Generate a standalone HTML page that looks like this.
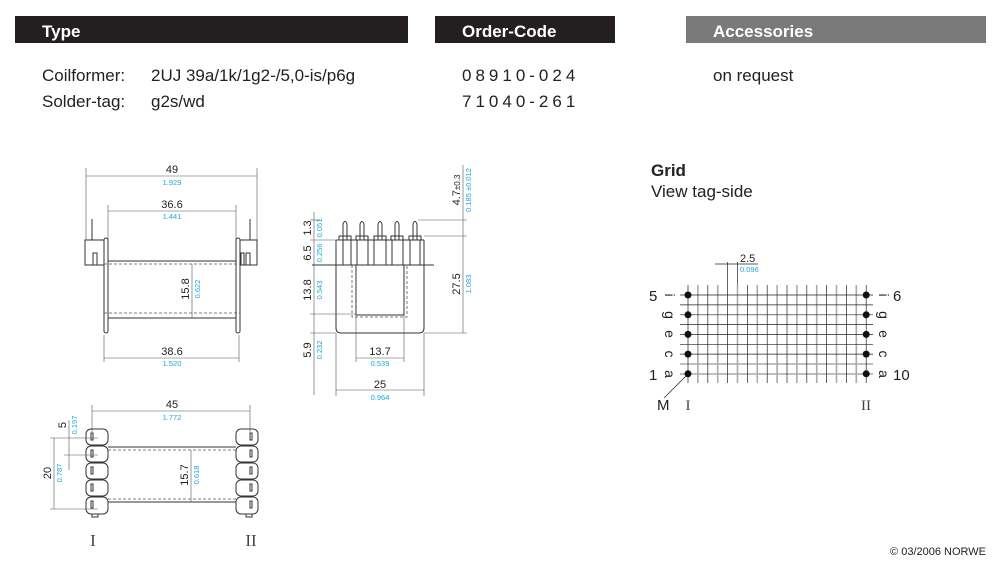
<!DOCTYPE html>
<html><head><meta charset="utf-8"><style>
html,body{margin:0;padding:0;background:#fff;}
svg{display:block;font-family:"Liberation Sans",Arial,sans-serif;}
.k{stroke:#333;stroke-width:1;fill:none}
.t{stroke:#555;stroke-width:0.6;fill:none}
.d{stroke:#555;stroke-width:0.8;fill:none;stroke-dasharray:3 2}
.b{fill:#222;font-size:11px}
.c{fill:#1aa8d8;font-size:7.5px}
.g{stroke:#222;stroke-width:0.7}
.gg{stroke:#aaa;stroke-width:1.6}
</style></head><body>
<svg width="1000" height="569" viewBox="0 0 1000 569">
<rect x="15" y="16" width="393" height="27" fill="#231f20"/>
<rect x="435" y="16" width="180" height="27" fill="#231f20"/>
<rect x="686" y="16" width="300" height="27" fill="#7a7a7a"/>
<text x="42" y="37" fill="#fff" font-size="17" font-weight="bold">Type</text>
<text x="462" y="37" fill="#fff" font-size="17" font-weight="bold">Order-Code</text>
<text x="713" y="37" fill="#fff" font-size="17" font-weight="bold">Accessories</text>
<g fill="#222" font-size="17">
<text x="42" y="81">Coilformer:</text><text x="151" y="81">2UJ 39a/1k/1g2-/5,0-is/p6g</text>
<text x="42" y="107">Solder-tag:</text><text x="151" y="107">g2s/wd</text>
<text x="462" y="81" letter-spacing="4">08910-024</text>
<text x="462" y="107" letter-spacing="4">71040-261</text>
<text x="713" y="81">on request</text>
<text x="651" y="176" font-weight="bold">Grid</text>
<text x="651" y="197">View tag-side</text>
</g>
<text x="986" y="555" text-anchor="end" font-size="11" fill="#222">© 03/2006 NORWE</text>

<!-- Drawing 1 -->
<g>
<line class="t" x1="86" y1="168" x2="86" y2="240"/><line class="t" x1="257" y1="168" x2="257" y2="240"/>
<line class="t" x1="86" y1="176" x2="257" y2="176"/>
<text class="b" x="172" y="173" text-anchor="middle">49</text><text class="c" x="172" y="185" text-anchor="middle">1.929</text>
<line class="t" x1="108" y1="205" x2="108" y2="240"/><line class="t" x1="236" y1="205" x2="236" y2="240"/>
<line class="t" x1="108" y1="211" x2="236" y2="211"/>
<text class="b" x="172" y="208" text-anchor="middle">36.6</text><text class="c" x="172" y="219" text-anchor="middle">1.441</text>
<line class="k" x1="92" y1="219" x2="92" y2="240"/><line class="k" x1="250" y1="219" x2="250" y2="240"/>
<rect class="k" x="85" y="240" width="19" height="25"/><rect class="k" x="93" y="253" width="4" height="12"/>
<rect class="k" x="240" y="240" width="17" height="25"/><rect class="k" x="246" y="253" width="4" height="12"/><rect class="k" x="241" y="253" width="3" height="12"/>
<rect class="k" x="104" y="238" width="4" height="95" rx="2"/>
<rect class="k" x="236" y="238" width="4" height="95" rx="2"/>
<line class="k" x1="108" y1="261" x2="236" y2="261"/><line class="k" x1="108" y1="318" x2="236" y2="318"/>
<line class="d" x1="104" y1="264" x2="240" y2="264"/><line class="d" x1="104" y1="313" x2="240" y2="313"/>
<line class="t" x1="192" y1="264" x2="192" y2="318"/>
<text class="b" transform="translate(189,289) rotate(-90)" text-anchor="middle">15.8</text>
<text class="c" transform="translate(200,289) rotate(-90)" text-anchor="middle">0.622</text>
<line class="t" x1="104" y1="335" x2="104" y2="362"/><line class="t" x1="239" y1="335" x2="239" y2="362"/>
<line class="t" x1="104" y1="358" x2="239" y2="358"/>
<text class="b" x="172" y="355" text-anchor="middle">38.6</text><text class="c" x="172" y="366" text-anchor="middle">1.520</text>
</g>

<!-- Drawing 2 -->
<g>
<path class="k" d="M336 240 V328 Q336 333 341 333 H419 Q424 333 424 328 V240"/>
<line class="k" x1="336" y1="240" x2="424" y2="240"/>
<line class="k" x1="312" y1="265" x2="434" y2="265"/>
<path class="d" d="M352 265 V317 H407 V265"/>
<path class="k" d="M356 265 V315 H404 V265"/>
<g class="k">
<path d="M343 240 V224 Q345 219 347 224 V240"/><rect x="339" y="236" width="12" height="4"/><line x1="343" y1="240" x2="343" y2="265"/><line x1="351" y1="240" x2="351" y2="265"/>
<path d="M360 240 V224 Q362 219 364 224 V240"/><rect x="356" y="236" width="12" height="4"/><line x1="357" y1="240" x2="357" y2="265"/><line x1="368" y1="240" x2="368" y2="265"/>
<path d="M378 240 V224 Q380 219 382 224 V240"/><rect x="374" y="236" width="12" height="4"/><line x1="374" y1="240" x2="374" y2="265"/><line x1="386" y1="240" x2="386" y2="265"/>
<path d="M395 240 V224 Q397 219 399 224 V240"/><rect x="391" y="236" width="12" height="4"/><line x1="392" y1="240" x2="392" y2="265"/><line x1="403" y1="240" x2="403" y2="265"/>
<path d="M413 240 V224 Q415 219 417 224 V240"/><rect x="409" y="236" width="12" height="4"/><line x1="410" y1="240" x2="410" y2="265"/><line x1="420" y1="240" x2="420" y2="265"/>
</g>
<line class="t" x1="314" y1="212" x2="314" y2="395"/>
<line class="t" x1="310" y1="240" x2="340" y2="240"/><line class="t" x1="310" y1="314" x2="356" y2="314"/><line class="t" x1="310" y1="333" x2="336" y2="333"/><line class="t" x1="310" y1="220" x2="320" y2="220"/>
<text class="b" transform="translate(311,228) rotate(-90)" text-anchor="middle">1.3</text><text class="c" transform="translate(322,228) rotate(-90)" text-anchor="middle">0.051</text>
<text class="b" transform="translate(311,253) rotate(-90)" text-anchor="middle">6.5</text><text class="c" transform="translate(322,253) rotate(-90)" text-anchor="middle">0.256</text>
<text class="b" transform="translate(311,290) rotate(-90)" text-anchor="middle">13.8</text><text class="c" transform="translate(322,290) rotate(-90)" text-anchor="middle">0.543</text>
<text class="b" transform="translate(311,350) rotate(-90)" text-anchor="middle">5.9</text><text class="c" transform="translate(322,350) rotate(-90)" text-anchor="middle">0.232</text>
<line class="t" x1="463" y1="165" x2="463" y2="333"/>
<line class="t" x1="418" y1="220" x2="467" y2="220"/><line class="t" x1="424" y1="236" x2="467" y2="236"/><line class="t" x1="424" y1="333" x2="467" y2="333"/>
<text class="b" transform="translate(460,190) rotate(-90)" text-anchor="middle">4.7<tspan font-size="8">±0.3</tspan></text>
<text class="c" transform="translate(471,190) rotate(-90)" text-anchor="middle">0.185 ±0.012</text>
<text class="b" transform="translate(460,284) rotate(-90)" text-anchor="middle">27.5</text><text class="c" transform="translate(471,284) rotate(-90)" text-anchor="middle">1.083</text>
<line class="t" x1="356" y1="315" x2="356" y2="362"/><line class="t" x1="404" y1="315" x2="404" y2="362"/>
<line class="t" x1="356" y1="358" x2="404" y2="358"/>
<text class="b" x="380" y="355" text-anchor="middle">13.7</text><text class="c" x="380" y="366" text-anchor="middle">0.539</text>
<line class="t" x1="336" y1="333" x2="336" y2="396"/><line class="t" x1="424" y1="333" x2="424" y2="396"/>
<line class="t" x1="336" y1="390" x2="424" y2="390"/>
<text class="b" x="380" y="388" text-anchor="middle">25</text><text class="c" x="380" y="400" text-anchor="middle">0.964</text>
</g>

<!-- Drawing 3 -->
<g>
<line class="t" x1="92" y1="405" x2="92" y2="432"/><line class="t" x1="250" y1="405" x2="250" y2="432"/>
<line class="t" x1="92" y1="411" x2="250" y2="411"/>
<text class="b" x="172" y="408" text-anchor="middle">45</text><text class="c" x="172" y="420" text-anchor="middle">1.772</text>
<g class="k">
<rect x="86" y="429" width="22" height="16" rx="5"/><rect x="86" y="446" width="22" height="16" rx="5"/><rect x="86" y="463" width="22" height="16" rx="5"/><rect x="86" y="480" width="22" height="16" rx="5"/><rect x="86" y="497" width="22" height="17" rx="5"/>
<rect x="236" y="429" width="22" height="16" rx="5"/><rect x="236" y="446" width="22" height="16" rx="5"/><rect x="236" y="463" width="22" height="16" rx="5"/><rect x="236" y="480" width="22" height="16" rx="5"/><rect x="236" y="497" width="22" height="17" rx="5"/>
<rect x="91" y="433" width="2" height="7"/><rect x="91" y="450" width="2" height="7"/><rect x="91" y="467" width="2" height="7"/><rect x="91" y="484" width="2" height="7"/><rect x="91" y="501" width="2" height="7"/>
<rect x="250" y="433" width="2" height="7"/><rect x="250" y="450" width="2" height="7"/><rect x="250" y="467" width="2" height="7"/><rect x="250" y="484" width="2" height="7"/><rect x="250" y="501" width="2" height="7"/>
<line x1="108" y1="447" x2="236" y2="447"/><line x1="108" y1="502" x2="236" y2="502"/>
<rect x="92" y="514" width="6" height="3"/><rect x="246" y="514" width="6" height="3"/>
</g>
<line class="d" x1="108" y1="450" x2="236" y2="450"/><line class="d" x1="108" y1="499" x2="236" y2="499"/>
<line class="t" x1="191" y1="450" x2="191" y2="502"/>
<text class="b" transform="translate(188,475) rotate(-90)" text-anchor="middle">15.7</text><text class="c" transform="translate(199,475) rotate(-90)" text-anchor="middle">0.618</text>
<line class="t" x1="50" y1="438" x2="98" y2="438"/><line class="t" x1="50" y1="509" x2="98" y2="509"/>
<line class="t" x1="54" y1="438" x2="54" y2="509"/><line class="t" x1="69" y1="420" x2="69" y2="470"/><line class="t" x1="64" y1="455" x2="98" y2="455"/>
<text class="b" transform="translate(51,473) rotate(-90)" text-anchor="middle">20</text><text class="c" transform="translate(62,473) rotate(-90)" text-anchor="middle">0.787</text>
<text class="b" transform="translate(66,425) rotate(-90)" text-anchor="middle">5</text><text class="c" transform="translate(77,425) rotate(-90)" text-anchor="middle">0.197</text>
<text x="93" y="546" font-family="Liberation Serif,serif" font-size="17" fill="#444" text-anchor="middle">I</text>
<text x="251" y="546" font-family="Liberation Serif,serif" font-size="17" fill="#444" text-anchor="middle">II</text>
</g>

<!-- Grid -->
<g>
<g class="gg">
<line x1="697.9" y1="285" x2="697.9" y2="383"/><line x1="717.7" y1="285" x2="717.7" y2="383"/><line x1="737.5" y1="285" x2="737.5" y2="383"/><line x1="757.3" y1="285" x2="757.3" y2="383"/><line x1="777.1" y1="285" x2="777.1" y2="383"/><line x1="796.9" y1="285" x2="796.9" y2="383"/><line x1="816.7" y1="285" x2="816.7" y2="383"/><line x1="836.5" y1="285" x2="836.5" y2="383"/><line x1="856.3" y1="285" x2="856.3" y2="383"/>
<line x1="680" y1="364" x2="873" y2="364"/><line x1="680" y1="374" x2="873" y2="374"/>
</g>
<g class="g">
<line x1="688" y1="285" x2="688" y2="383"/><line x1="707.8" y1="285" x2="707.8" y2="383"/><line x1="727.6" y1="262" x2="727.6" y2="383"/><line x1="737.5" y1="262" x2="737.5" y2="285"/><line x1="747.4" y1="285" x2="747.4" y2="383"/><line x1="767.2" y1="285" x2="767.2" y2="383"/><line x1="787" y1="285" x2="787" y2="383"/><line x1="806.8" y1="285" x2="806.8" y2="383"/><line x1="826.6" y1="285" x2="826.6" y2="383"/><line x1="846.4" y1="285" x2="846.4" y2="383"/><line x1="866.2" y1="285" x2="866.2" y2="383"/>
<line x1="680" y1="295" x2="873" y2="295"/><line x1="680" y1="304.9" x2="873" y2="304.9"/><line x1="680" y1="314.8" x2="873" y2="314.8"/><line x1="680" y1="324.6" x2="873" y2="324.6"/><line x1="680" y1="334.4" x2="873" y2="334.4"/><line x1="680" y1="344.3" x2="873" y2="344.3"/><line x1="680" y1="354.1" x2="873" y2="354.1"/>
<line x1="715" y1="264" x2="758" y2="264"/>
<line x1="686" y1="376" x2="664" y2="398"/>
</g>
<text x="740" y="262" font-size="11" fill="#222">2.5</text><text class="c" x="740" y="272">0.096</text>
<g fill="#111">
<circle cx="688" cy="295" r="3.5"/><circle cx="688" cy="314.8" r="3.5"/><circle cx="688" cy="334.4" r="3.5"/><circle cx="688" cy="354.1" r="3.5"/><circle cx="688" cy="373.8" r="3.5"/>
<circle cx="866.2" cy="295" r="3.5"/><circle cx="866.2" cy="314.8" r="3.5"/><circle cx="866.2" cy="334.4" r="3.5"/><circle cx="866.2" cy="354.1" r="3.5"/><circle cx="866.2" cy="373.8" r="3.5"/>
</g>
<g font-size="15" fill="#222">
<text x="649" y="301">5</text><text x="649" y="380">1</text><text x="893" y="301">6</text><text x="893" y="380">10</text>
<text x="657" y="410">M</text>
</g>
<g font-size="14" fill="#222" text-anchor="middle" dominant-baseline="central">
<rect x="664" y="288" width="12" height="14" fill="#fff"/><rect x="664" y="367" width="12" height="14" fill="#fff"/>
<rect x="877" y="288" width="12" height="14" fill="#fff"/><rect x="877" y="367" width="12" height="14" fill="#fff"/>
<text transform="translate(670,295) rotate(90)">i</text>
<text transform="translate(670,315) rotate(90)">g</text>
<text transform="translate(670,334) rotate(90)">e</text>
<text transform="translate(670,354) rotate(90)">c</text>
<text transform="translate(670,374) rotate(90)">a</text>
<text transform="translate(884,295) rotate(90)">i</text>
<text transform="translate(884,315) rotate(90)">g</text>
<text transform="translate(884,334) rotate(90)">e</text>
<text transform="translate(884,354) rotate(90)">c</text>
<text transform="translate(884,374) rotate(90)">a</text>
</g>
<text x="688" y="410" font-family="Liberation Serif,serif" font-size="15" fill="#444" text-anchor="middle">I</text>
<text x="866" y="410" font-family="Liberation Serif,serif" font-size="15" fill="#444" text-anchor="middle">II</text>
</g>
</svg>
</body></html>
